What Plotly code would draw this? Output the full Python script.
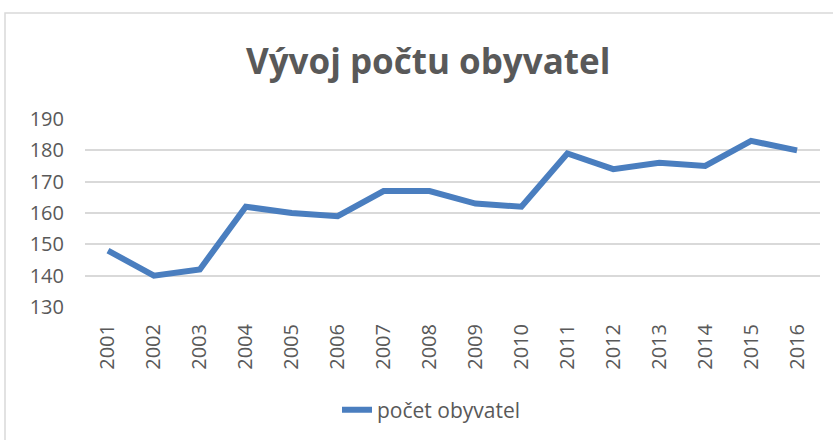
import plotly.graph_objects as go

years = [str(y) for y in range(2001, 2017)]
population = [148, 140, 142, 162, 160, 159, 167, 167, 163, 162, 179, 174, 176, 175, 183, 180]
y_ticks = [130, 140, 150, 160, 170, 180, 190]

W, H = 833, 440
L, R, T, B = 85, 13, 119, 133
pw, ph = W - L - R, H - T - B

fig = go.Figure()
fig.add_trace(go.Scatter(
    x=years, y=population, mode="lines", name="počet obyvatel",
    line=dict(color="#4A7EBF", width=6, shape="linear"),
))

fig.update_layout(
    width=W, height=H,
    margin=dict(l=L, r=R, t=T, b=B, autoexpand=False),
    paper_bgcolor="white", plot_bgcolor="white",
    title=dict(text="<b>Vývoj počtu obyvatel</b>", x=0.514, xanchor="center",
               y=1 - 62 / H, yanchor="middle",
               font=dict(family="Open Sans", size=35, color="#595959")),
    font=dict(family="Open Sans", color="#595959"),
    showlegend=True,
    legend=dict(orientation="h", x=0.5 - 21 / pw, xanchor="center", y=-103 / ph, yanchor="middle",
                font=dict(size=21, color="#595959"), bgcolor="rgba(0,0,0,0)"),
    xaxis=dict(type="category", tickangle=-90, tickfont=dict(size=20, color="#595959"),
               showgrid=False, showline=False, ticks="", range=[-0.5, 15.5],
               automargin=False, ticklabelstandoff=12),
    yaxis=dict(range=[130, 190], tickvals=y_ticks, showgrid=True, gridcolor="#D9D9D9",
               gridwidth=1.5, zeroline=False, showline=False, ticks="",
               tickfont=dict(size=20, color="#595959"), ticklabelstandoff=20,
               automargin=False),
)

fig.add_shape(type="rect", xref="paper", yref="paper",
              x0=(5 - L) / pw, x1=(W + 5 - L) / pw,
              y0=(H - B - (H + 5)) / ph, y1=(H - B - 13) / ph,
              line=dict(color="#D9D9D9", width=1.5), fillcolor="rgba(0,0,0,0)", layer="below")

fig.write_html("out.html", config={"displayModeBar": False},
               post_script="document.body.style.margin='0';document.body.style.overflow='hidden';")
